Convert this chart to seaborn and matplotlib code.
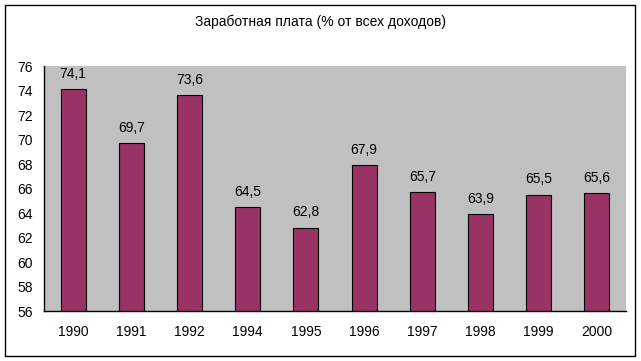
import numpy as np
import pandas as pd
import matplotlib
matplotlib.use("Agg")
import matplotlib.pyplot as plt
import seaborn as sns
from matplotlib.patches import Rectangle

# Data
years = ["1990", "1991", "1992", "1994", "1995", "1996", "1997", "1998", "1999", "2000"]
wages = [74.1, 69.7, 73.6, 64.5, 62.8, 67.9, 65.7, 63.9, 65.5, 65.6]
title = "Заработная плата (% от всех доходов)"

df = pd.DataFrame({"year": years, "wage": wages})

sns.set_theme(style="white")
plt.rcParams['font.family'] = ['Liberation Sans', 'DejaVu Sans']

fig = plt.figure(figsize=(6.41, 3.61), dpi=100)
ax = fig.add_axes([44/641, 50/361, (626-44)/641, (311-66)/361])
ax.set_facecolor("#c0c0c0")

sns.barplot(data=df, x="year", y="wage", color="#993366", saturation=1,
            width=0.43, edgecolor="black", linewidth=0.8, ax=ax)

ax.set_ylim(56, 76)
ax.set_yticks(np.arange(56, 77, 2))
ax.set_xlim(-0.5, len(years) - 0.5)

# ticks at category boundaries, labels at centres
ax.set_xticks(np.arange(-0.5, len(years), 1))
ax.set_xticklabels([])
ax.set_xticks(np.arange(len(years)), minor=True)
ax.set_xticklabels(years, minor=True)
ax.tick_params(axis="x", which="major", direction="out", length=5, width=1, color="black")
ax.tick_params(axis="x", which="minor", length=0, pad=10, labelsize=10, labelcolor="black")
ax.tick_params(axis="y", direction="out", length=5, width=1, color="black",
               labelsize=10, labelcolor="black", pad=3)

for s in ["top", "right"]:
    ax.spines[s].set_visible(False)
for s in ["left", "bottom"]:
    ax.spines[s].set_color("black")
    ax.spines[s].set_linewidth(1)

ax.set_xlabel("")
ax.set_ylabel("")

for i, v in enumerate(wages):
    ax.annotate(f"{v:.1f}".replace(".", ","), (i, v), xytext=(0, 6),
                textcoords="offset points", ha="center", va="bottom",
                fontsize=10, color="black")

fig.text(0.5, 1 - 22/361, title, ha="center", va="center", fontsize=10, color="black")

fig.patches.append(Rectangle((5/641, 5/361), 630/641, 351/361, transform=fig.transFigure,
                             fill=False, edgecolor="black", linewidth=1))

fig.savefig("out.png", dpi=100, facecolor="white")
